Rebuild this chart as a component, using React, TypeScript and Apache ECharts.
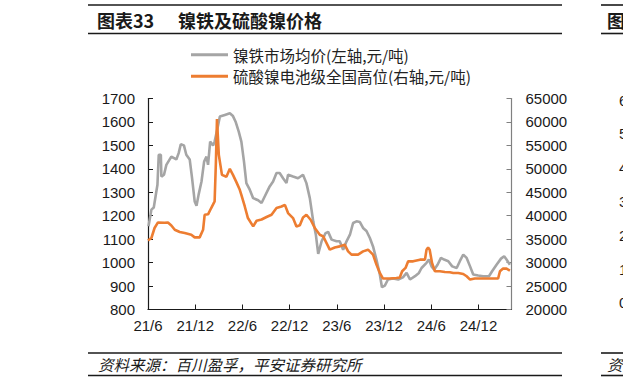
import React, { useEffect, useRef } from "react";
import * as echarts from "echarts";

// 镍铁市场均价 (左轴, 元/吨)
const ferroNickelDates = [
  "2021-06-03", "2021-06-14", "2021-06-23", "2021-07-07", "2021-07-12", "2021-07-20", "2021-07-22",
  "2021-08-02", "2021-08-11", "2021-08-30", "2021-09-19", "2021-09-28", "2021-10-06", "2021-10-18",
  "2021-10-27", "2021-11-10", "2021-11-19", "2021-11-29", "2021-12-06", "2021-12-14", "2021-12-25",
  "2022-01-05", "2022-01-14", "2022-01-20", "2022-01-28", "2022-02-09", "2022-02-15", "2022-02-26",
  "2022-03-05", "2022-03-24", "2022-04-13", "2022-04-25", "2022-05-05", "2022-05-17", "2022-05-27",
  "2022-06-07", "2022-06-16", "2022-06-29", "2022-07-12", "2022-07-31", "2022-08-14", "2022-08-26",
  "2022-09-15", "2022-09-28", "2022-10-11", "2022-10-23", "2022-11-06", "2022-11-19", "2022-11-25",
  "2022-12-14", "2023-01-03", "2023-01-22", "2023-02-05", "2023-02-18", "2023-03-01", "2023-03-11",
  "2023-03-20", "2023-04-03", "2023-04-18", "2023-04-28", "2023-05-11", "2023-05-30", "2023-06-12",
  "2023-06-25", "2023-07-08", "2023-07-21", "2023-08-03", "2023-08-16", "2023-08-29", "2023-09-11",
  "2023-09-24", "2023-10-07", "2023-10-19", "2023-11-02", "2023-11-15", "2023-11-23", "2023-12-04",
  "2023-12-16", "2024-01-05", "2024-01-25", "2024-02-13", "2024-02-27", "2024-03-10", "2024-03-29",
  "2024-04-14", "2024-04-24", "2024-05-13", "2024-05-22", "2024-06-02", "2024-06-12", "2024-06-25",
  "2024-07-08", "2024-07-20", "2024-08-06", "2024-08-21", "2024-09-08", "2024-09-20", "2024-10-03",
  "2024-10-16", "2024-10-29", "2024-11-11", "2024-11-30", "2024-12-19", "2025-01-11", "2025-01-23",
  "2025-02-10", "2025-02-27", "2025-03-09", "2025-03-18", "2025-04-01",
];
const ferroNickelPrices = [
  1155, 1226, 1235, 1332, 1460, 1460, 1367,
  1375, 1417, 1452, 1440, 1467, 1505, 1500,
  1460, 1440, 1360, 1261, 1243, 1290, 1346,
  1431, 1452, 1417, 1516, 1500, 1516, 1573,
  1623, 1630, 1637, 1625, 1601, 1559, 1516,
  1431, 1339, 1311, 1275, 1266, 1254, 1282,
  1325, 1346, 1382, 1382, 1360, 1339, 1375,
  1367, 1360, 1375, 1339, 1275, 1176, 1119,
  1037, 1091, 1126, 1131, 1098, 1091, 1091,
  1055, 1091, 1119, 1169, 1176, 1173, 1148,
  1135, 1105, 1069, 1013, 949, 895, 902,
  928, 932, 928, 937, 956, 928, 942,
  956, 977, 999, 1013, 984, 970, 991,
  1020, 1013, 1006, 984, 977, 1006, 1034,
  1020, 984, 949, 945, 942, 942, 963,
  991, 1017, 1027, 1013, 991,
];

// 硫酸镍电池级全国高位 (右轴, 元/吨)
const nickelSulfateDates = [
  "2021-06-01", "2021-06-14", "2021-06-26", "2021-07-09", "2021-08-04", "2021-08-17", "2021-08-30",
  "2021-09-13", "2021-10-02", "2021-10-21", "2021-11-16", "2021-11-29", "2021-12-18", "2022-01-01",
  "2022-01-07", "2022-01-20", "2022-02-02", "2022-02-15", "2022-02-20", "2022-02-24", "2022-03-01",
  "2022-03-13", "2022-03-30", "2022-04-13", "2022-04-25", "2022-05-08", "2022-05-21", "2022-05-27",
  "2022-06-10", "2022-06-22", "2022-07-12", "2022-07-25", "2022-08-14", "2022-09-03", "2022-09-22",
  "2022-10-11", "2022-10-30", "2022-11-13", "2022-11-25", "2022-12-14", "2022-12-27", "2023-01-10",
  "2023-01-22", "2023-02-05", "2023-02-21", "2023-03-07", "2023-03-26", "2023-04-09", "2023-04-28",
  "2023-05-04", "2023-05-23", "2023-06-12", "2023-07-01", "2023-07-14", "2023-07-27", "2023-08-22",
  "2023-09-11", "2023-09-30", "2023-10-19", "2023-11-02", "2023-11-15", "2023-11-27", "2023-12-23",
  "2024-01-18", "2024-02-01", "2024-02-10", "2024-02-23", "2024-03-03", "2024-03-22", "2024-04-18",
  "2024-05-07", "2024-05-13", "2024-05-19", "2024-05-25", "2024-06-04", "2024-06-15", "2024-07-04",
  "2024-07-23", "2024-08-12", "2024-08-25", "2024-09-14", "2024-10-03", "2024-10-16", "2024-10-29",
  "2024-11-17", "2024-12-19", "2025-01-21", "2025-02-16", "2025-02-23", "2025-03-05", "2025-03-18",
  "2025-04-01",
];
const nickelSulfatePrices = [
  34700, 35250, 37380, 38570, 38500, 38570, 37930,
  37000, 36530, 36300, 35950, 35380, 35380, 37000,
  40200, 40300, 41640, 43040, 51550, 60640, 52980,
  48720, 48300, 50000, 48720, 47160, 45530, 44460,
  41970, 39500, 37720, 38930, 39200, 39720, 40210,
  41640, 41970, 42320, 40570, 39500, 37720, 37950,
  39630, 40210, 39140, 37380, 35950, 35590, 33460,
  32760, 33220, 33460, 33820, 32400, 31700, 31700,
  32400, 32760, 31700, 29570, 27800, 26600, 26600,
  26720, 26840, 28150, 28870, 30270, 30270, 30630,
  30630, 32760, 33220, 32760, 29930, 28150, 28150,
  28000, 27940, 27800, 27800, 27580, 27080, 26380,
  26600, 26600, 26600, 26600, 28150, 28720, 28720,
  28290,
];

const legendNames = ["镍铁市场均价(左轴,元/吨)", "硫酸镍电池级全国高位(右轴,元/吨)"];
const leftTicks = { min: 800, max: 1700, interval: 100 };
const rightTicks = { min: 20000, max: 65000, interval: 5000 };
const xTicks = { min: 0, max: 46.2, interval: 6 }; // months since 2021-06
const nextChartTicks = ["60", "50", "40", "30", "20", "10", "0"];

const monthIndex = (d: string) => {
  const [y, m, day] = d.split("-").map(Number);
  return (y - 2021) * 12 + (m - 6) + (day - 1) / 30;
};
const monthLabel = (v: number) => {
  const total = 5 + Math.round(v);
  const yy = 21 + Math.floor(total / 12);
  const mm = (total % 12) + 1;
  return `${yy}/${mm}`;
};

const FONT = '"Liberation Sans", Arial, "Noto Sans CJK SC", sans-serif';
const CJK = '"Noto Sans CJK SC", "Liberation Sans", sans-serif';

export default function App() {
  const ref = useRef<HTMLDivElement>(null);
  useEffect(() => {
    if (!ref.current) return;
    const chart = echarts.init(ref.current, null, { renderer: "svg" });
    const gray = ferroNickelDates.map((d, i) => [monthIndex(d), ferroNickelPrices[i]]);
    const orange = nickelSulfateDates.map((d, i) => [monthIndex(d), nickelSulfatePrices[i]]);
    const lineEl = (x1: number, y1: number, x2: number, y2: number) => ({
      type: "line",
      silent: true,
      shape: { x1, y1, x2, y2 },
      style: { stroke: "#1a1a1a", lineWidth: 1.6 },
    });
    chart.setOption({
      animation: false,
      backgroundColor: "#ffffff",
      grid: { left: 148, top: 98.5, width: 363.5, height: 211, containLabel: false },
      legend: {
        orient: "vertical",
        left: 191,
        top: 47,
        padding: 0,
        itemGap: 6,
        itemWidth: 37,
        itemHeight: 3,
        icon: "rect",
        data: legendNames,
        textStyle: { fontSize: 15.5, color: "#222", fontFamily: CJK },
      },
      xAxis: {
        type: "value",
        min: xTicks.min,
        max: xTicks.max,
        interval: xTicks.interval,
        axisLine: { show: true, lineStyle: { color: "#1a1a1a", width: 1.2 } },
        axisTick: { show: true, inside: true, length: 5, lineStyle: { color: "#1a1a1a" } },
        splitLine: { show: false },
        axisLabel: {
          showMaxLabel: false,
          margin: 8,
          fontSize: 15,
          color: "#1a1a1a",
          fontFamily: FONT,
          formatter: (v: number) => monthLabel(v),
        },
      },
      yAxis: [
        {
          type: "value",
          position: "left",
          min: leftTicks.min,
          max: leftTicks.max,
          interval: leftTicks.interval,
          axisLine: { show: true, lineStyle: { color: "#1a1a1a", width: 1.2 } },
          axisTick: { show: true, inside: true, length: 5, lineStyle: { color: "#1a1a1a" } },
          splitLine: { show: false },
          axisLabel: {
            margin: 13,
            fontSize: 15,
            color: "#1a1a1a",
            fontFamily: FONT,
            formatter: (v: number) => String(v),
          },
        },
        {
          type: "value",
          position: "right",
          min: rightTicks.min,
          max: rightTicks.max,
          interval: rightTicks.interval,
          axisLine: { show: true, lineStyle: { color: "#808080", width: 1.2 } },
          axisTick: { show: true, inside: true, length: 5, lineStyle: { color: "#808080" } },
          splitLine: { show: false },
          axisLabel: {
            margin: 14,
            fontSize: 15,
            color: "#1a1a1a",
            fontFamily: FONT,
            formatter: (v: number) => String(v),
          },
        },
      ],
      series: [
        {
          name: legendNames[0],
          type: "line",
          yAxisIndex: 0,
          symbol: "none",
          data: gray,
          color: "#A5A5A5",
          lineStyle: { color: "#A5A5A5", width: 2.6 },
        },
        {
          name: legendNames[1],
          type: "line",
          yAxisIndex: 1,
          symbol: "none",
          data: orange,
          color: "#ED7D31",
          lineStyle: { color: "#ED7D31", width: 2.6 },
        },
      ],
      graphic: [
        lineEl(88, 5, 562, 5),
        lineEl(88, 33.5, 562, 33.5),
        {
          type: "text",
          x: 97,
          y: 20,
          style: { text: "图表33", font: `bold 18px ${CJK}`, fill: "#1a1a1a", verticalAlign: "middle" },
        },
        {
          type: "text",
          x: 178,
          y: 20,
          style: { text: "镍铁及硫酸镍价格", font: `bold 18px ${CJK}`, fill: "#1a1a1a", verticalAlign: "middle" },
        },
        lineEl(88, 353, 562, 353),
        lineEl(88, 375.5, 562, 375.5),
        {
          type: "text",
          x: 98,
          y: 364,
          style: {
            text: "资料来源：百川盈孚，平安证券研究所",
            font: `italic 15.5px ${CJK}`,
            fill: "#1a1a1a",
            verticalAlign: "middle",
          },
        },
        // neighbouring chart, cut off by the right edge as in the reference
        lineEl(601, 5, 623, 5),
        lineEl(601, 33.5, 623, 33.5),
        lineEl(601, 353, 623, 353),
        lineEl(601, 375.5, 623, 375.5),
        {
          type: "text",
          x: 607,
          y: 20,
          style: { text: "图表34", font: `bold 18px ${CJK}`, fill: "#1a1a1a", verticalAlign: "middle" },
        },
        {
          type: "text",
          x: 607,
          y: 364,
          style: { text: "资料来源", font: `italic 15.5px ${CJK}`, fill: "#1a1a1a", verticalAlign: "middle" },
        },
        ...nextChartTicks.map((t, i) => ({
          type: "text",
          x: 619,
          y: 100 + i * 33.8,
          style: { text: t, font: `15px ${FONT}`, fill: "#1a1a1a", verticalAlign: "middle" },
        })),
      ],
    });
    return () => chart.dispose();
  }, []);
  return (
    <div
      ref={ref}
      style={{ position: "fixed", left: 0, top: 0, width: 623, height: 386, background: "#fff" }}
    />
  );
}
